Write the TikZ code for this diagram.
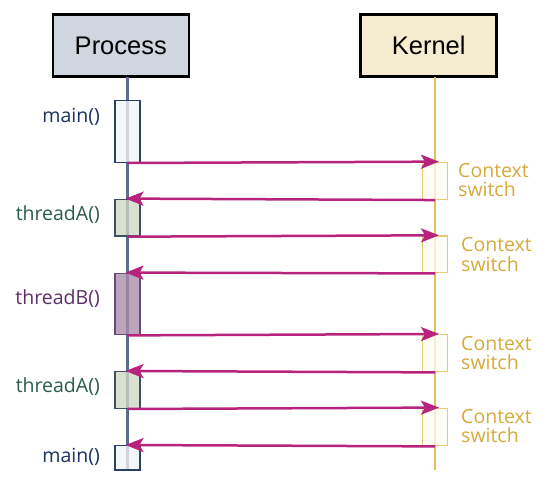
\documentclass[tikz,border=0pt]{standalone}
\usepackage{fontspec}
\setmainfont{Open Sans}
\newfontfamily\headfont{Liberation Sans}
\usetikzlibrary{arrows.meta}
\definecolor{procfill}{HTML}{D0D6E0}
\definecolor{kernfill}{HTML}{F6EDD0}
\definecolor{plife}{HTML}{5B6E8E}
\definecolor{klife}{HTML}{E3BD55}
\definecolor{arrowc}{HTML}{B8237E}
\definecolor{mainfill}{HTML}{F1F3F8}
\definecolor{mainline}{HTML}{2A4066}
\definecolor{mainText}{HTML}{1B3160}
\definecolor{thAfill}{HTML}{D0D8C4}
\definecolor{thAline}{HTML}{3C4E6A}
\definecolor{thAText}{HTML}{2B5B4A}
\definecolor{thBfill}{HTML}{A98AAA}
\definecolor{thBline}{HTML}{6A4A78}
\definecolor{thBText}{HTML}{5E2E6A}
\definecolor{ksfill}{HTML}{FDFBF2}
\definecolor{ksline}{HTML}{E8CA73}
\definecolor{ksText}{HTML}{D6AA3A}
\tikzset{
  header/.style={draw=black, line width=2.5pt, minimum width=136pt, minimum height=62pt, inner sep=0pt, font=\headfont\fontsize{25.5}{30}\selectfont},
  act/.style={line width=1.4pt, minimum width=25pt, inner sep=0pt, fill opacity=0.78, draw opacity=1},
  lbl/.style={anchor=east, inner sep=0pt, font=\fontsize{19.5}{22}\selectfont},
  kslbl/.style={anchor=west, inner sep=0pt, align=left, text=ksText, font=\fontsize{19.5}{19.3}\selectfont},
  msg/.style={draw=arrowc, line width=2.5pt, -{Stealth[length=18pt,width=14pt,inset=4pt]}},
}
\begin{document}
\begin{tikzpicture}[x=1pt,y=-1pt]
\useasboundingbox (0,0) rectangle (558,484);
% headers
\node[header, fill=procfill] (proc) at (120.8,45.5) {Process};
\node[header, fill=kernfill] (kern) at (428.7,45.5) {Kernel};
% lifelines
\coordinate (pl0) at (127.5,77);
\coordinate (pl1) at (127.5,470);
\coordinate (kl0) at (435,77);
\coordinate (kl1) at (435,470);
\draw[plife, line width=2.3pt] (pl0) -- (pl1);
\draw[klife, line width=2.5pt] (kl0) -- (kl1);
% process activation boxes
\node[act, draw=mainline, fill=mainfill, minimum height=61.6pt] (m1) at (127.5,131.5) {};
\node[act, draw=thAline, fill=thAfill, minimum height=36.7pt] (a1) at (127.5,217.65) {};
\node[act, draw=thBline, fill=thBfill, minimum height=61.4pt] (b1) at (127.5,304) {};
\node[act, draw=thAline, fill=thAfill, minimum height=36.6pt] (a2) at (127.5,390) {};
\node[act, draw=mainline, fill=mainfill, minimum height=24.3pt] (m2) at (127.5,457.85) {};
% kernel activation boxes
\node[act, draw=ksline, fill=ksfill, minimum height=37pt] (k1) at (435,180.85) {};
\node[act, draw=ksline, fill=ksfill, minimum height=36.7pt] (k2) at (435,254.35) {};
\node[act, draw=ksline, fill=ksfill, minimum height=37pt] (k3) at (435,353.2) {};
\node[act, draw=ksline, fill=ksfill, minimum height=37.4pt] (k4) at (435,427) {};
% labels
\node[lbl, text=mainText] (lm1) at (100,117) {main()};
\node[lbl, text=thAText] (la1) at (100,215) {threadA()};
\node[lbl, text=thBText] (lb1) at (100,299) {threadB()};
\node[lbl, text=thAText] (la2) at (100,387) {threadA()};
\node[lbl, text=mainText] (lm2) at (100,457) {main()};
\node[kslbl] (ks1) at (458,180) {Context\\switch};
\node[kslbl] (ks2) at (461,254.5) {Context\\switch};
\node[kslbl] (ks3) at (461,353) {Context\\switch};
\node[kslbl] (ks4) at (461,426) {Context\\switch};
% messages
\draw[msg, shorten >=-4pt] (m1.south) -- (k1.north);
\draw[msg, shorten >=-2pt] (k1.south) -- (a1.north);
\draw[msg, shorten >=-4pt] (a1.south) -- (k2.north);
\draw[msg, shorten >=-2pt] (k2.south) -- (b1.north);
\draw[msg, shorten >=-4pt] (b1.south) -- (k3.north);
\draw[msg, shorten >=-2pt] (k3.south) -- (a2.north);
\draw[msg, shorten >=-4pt] (a2.south) -- (k4.north);
\draw[msg, shorten >=-2pt] (k4.south) -- (m2.north);
\end{tikzpicture}
\end{document}
